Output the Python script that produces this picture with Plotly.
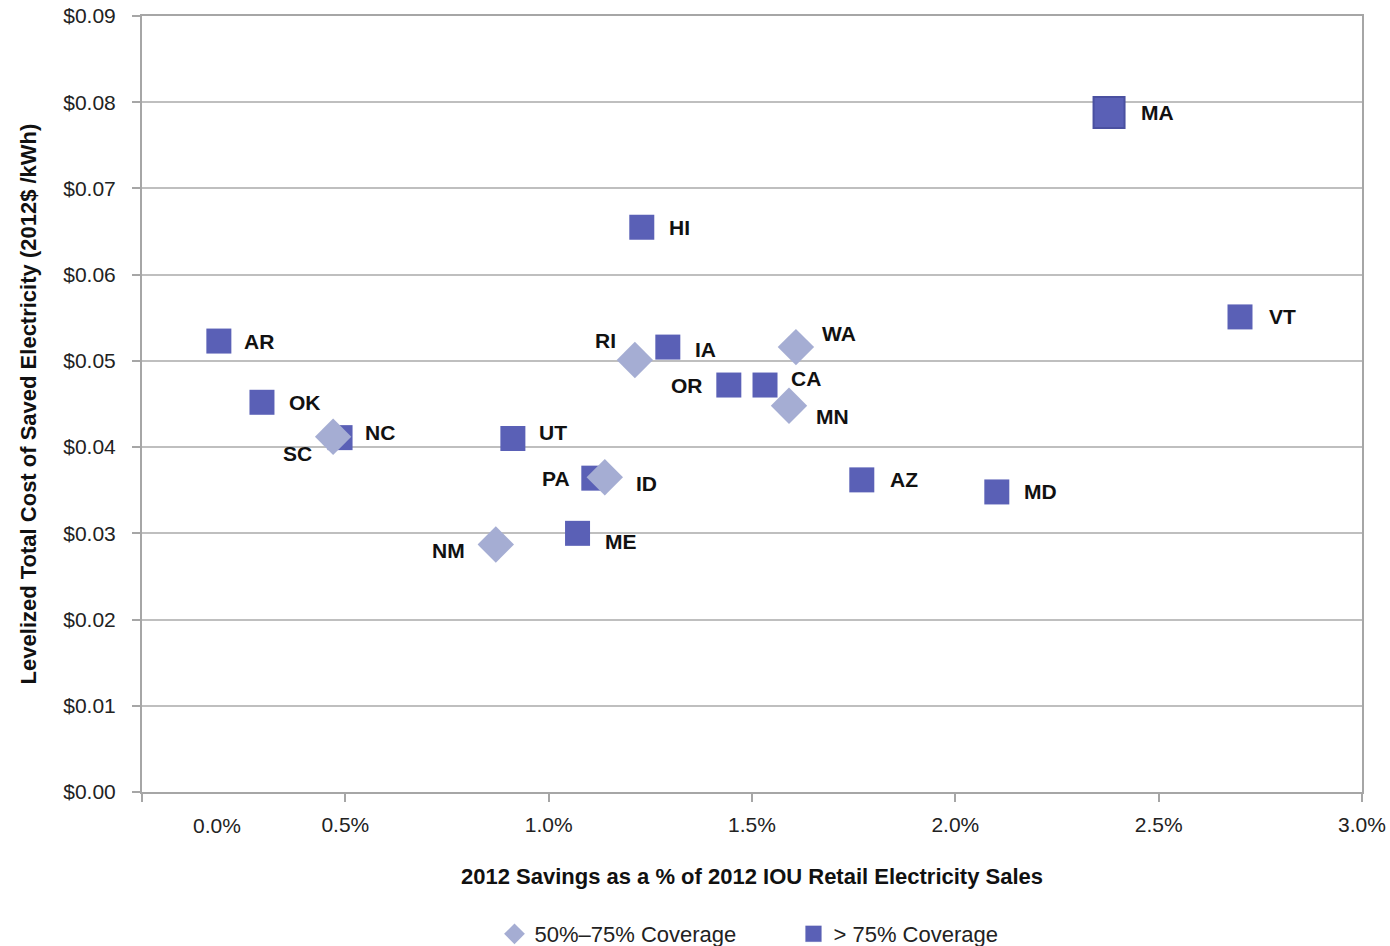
import plotly.graph_objects as go

# ---- data ----
sq_states = ["AR", "OK", "NC", "UT", "ME", "PA", "IA", "OR", "CA", "HI", "AZ", "MD", "MA", "VT"]
sq_savings = [0.189, 0.295, 0.487, 0.912, 1.071, 1.111, 1.293, 1.443, 1.532, 1.229, 1.770, 2.102, 2.378, 2.700]
sq_cost = [0.0523, 0.0452, 0.0411, 0.0410, 0.0300, 0.0364, 0.0516, 0.0472, 0.0472, 0.0655, 0.0362, 0.0348, 0.0788, 0.0551]

dm_states = ["SC", "NM", "ID", "RI", "WA", "MN"]
dm_savings = [0.470, 0.870, 1.138, 1.212, 1.608, 1.591]
dm_cost = [0.0412, 0.0287, 0.0365, 0.0501, 0.0516, 0.0448]

x_tick_vals = [0, 0.5, 1.0, 1.5, 2.0, 2.5, 3.0]
x_tick_text = ["", "0.5%", "1.0%", "1.5%", "2.0%", "2.5%", "3.0%"]
y_tick_vals = [0, 0.01, 0.02, 0.03, 0.04, 0.05, 0.06, 0.07, 0.08, 0.09]

# label placement (anchor side, xshift px, yshift px) -- styling only
label_place = {
    "AR": ("left", 23, 0), "OK": ("left", 25, 0), "NC": ("left", 23, 5),
    "UT": ("left", 24, 6), "ME": ("left", 25, -8), "PA": ("right", -22, 0),
    "IA": ("left", 25, -2), "OR": ("right", -24, 0), "CA": ("left", 24, 7),
    "HI": ("left", 25, 0), "AZ": ("left", 26, 0), "MD": ("left", 25, 0),
    "MA": ("left", 30, 0), "VT": ("left", 27, 0),
    "SC": ("right", -19, -17), "NM": ("right", -29, -6), "ID": ("left", 29, -6),
    "RI": ("right", -17, 20), "WA": ("left", 24, 14), "MN": ("left", 25, -11),
}

SQ_COLOR = "#5A60B6"
DM_COLOR = "#A5ADD3"
FONT = "Liberation Sans Narrow, Arial Narrow, Liberation Sans, Arial, sans-serif"

fig = go.Figure()
sq_sizes = [31 if s == "MA" else 25 for s in sq_states]
fig.add_trace(go.Scatter(
    x=sq_savings, y=sq_cost, mode="markers", name="> 75% Coverage",
    marker=dict(symbol="square", size=sq_sizes, color=SQ_COLOR, opacity=1,
                line=dict(width=[2 if s == "MA" else 0 for s in sq_states], color="#4A50A0")),
    legendrank=2, hoverinfo="skip",
))
fig.add_trace(go.Scatter(
    x=dm_savings, y=dm_cost, mode="markers", name="50%\u201375% Coverage",
    marker=dict(symbol="diamond", size=28, color=DM_COLOR, opacity=1, line=dict(width=0)),
    legendrank=1, hoverinfo="skip",
))

annotations = []
for names, xs, ys in ((sq_states, sq_savings, sq_cost), (dm_states, dm_savings, dm_cost)):
    for n, xv, yv in zip(names, xs, ys):
        side, dx, dy = label_place[n]
        annotations.append(dict(
            x=xv, y=yv, xref="x", yref="y", text="<b>%s</b>" % n, showarrow=False,
            xanchor=side, yanchor="middle", xshift=dx, yshift=dy,
            font=dict(family=FONT, size=21, color="#111111"),
        ))
# first x tick label (drawn offset as in original)
annotations.append(dict(
    x=0.184, y=0, xref="x", yref="paper", text="0.0%", showarrow=False,
    xanchor="center", yanchor="middle", yshift=-33,
    font=dict(family=FONT, size=21, color="#222222"),
))

fig.update_layout(
    width=1390, height=946,
    paper_bgcolor="white", plot_bgcolor="white",
    margin=dict(l=142, r=28, t=16, b=154, autoexpand=False),
    font=dict(family=FONT, size=21, color="#222222"),
    annotations=annotations,
    showlegend=True,
    legend=dict(orientation="h", x=0.534, xanchor="center", y=-0.183, yanchor="middle",
                font=dict(family=FONT, size=22, color="#222222"),
                itemsizing="trace", entrywidth=254, entrywidthmode="pixels"),
)
fig.update_xaxes(
    range=[0, 3], tickvals=x_tick_vals, ticktext=x_tick_text, automargin=False,
    showgrid=False, zeroline=False,
    showline=True, linecolor="#A6A6A6", linewidth=2, mirror=True,
    ticks="outside", ticklen=8, tickcolor="#A6A6A6", tickwidth=2,
    ticklabelstandoff=5,
    tickfont=dict(family=FONT, size=21, color="#222222"),
    title=dict(text="<b>2012 Savings as a % of 2012 IOU Retail Electricity Sales</b>",
               font=dict(family=FONT, size=22, color="#111111"), standoff=33),
)
fig.update_yaxes(
    range=[0, 0.09], tickvals=y_tick_vals, tickformat="$.2f", automargin=False,
    showgrid=True, gridcolor="#BFBFBF", gridwidth=1.5, zeroline=False,
    showline=True, linecolor="#A6A6A6", linewidth=2, mirror=True,
    ticks="outside", ticklen=8, tickcolor="#A6A6A6", tickwidth=2,
    ticklabelstandoff=12,
    tickfont=dict(family=FONT, size=21, color="#222222"),
    title=dict(text="<b>Levelized Total Cost of Saved Electricity (2012$ /kWh)</b>",
               font=dict(family=FONT, size=22, color="#111111"), standoff=21),
)

fig.write_html("out.html", config={"displayModeBar": False},
               post_script="document.body.style.margin='0';document.body.style.overflow='hidden';")
